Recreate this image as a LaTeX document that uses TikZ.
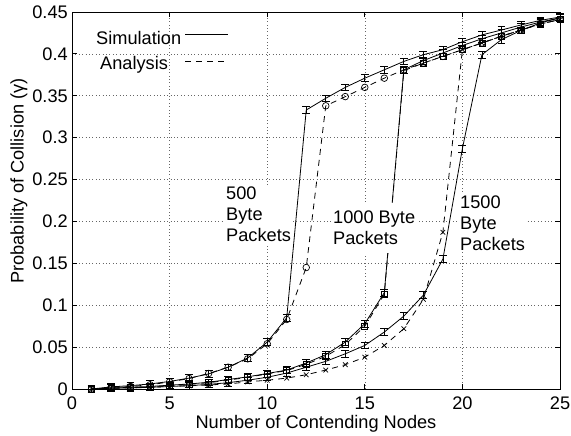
\documentclass[tikz,border=0pt]{standalone}
\usepackage{fontspec}
\setmainfont{Liberation Sans}
\usetikzlibrary{plotmarks}
\begin{document}
\begin{tikzpicture}[x=1pt,y=1pt, font=\fontsize{18.2}{21}\selectfont,
  gridline/.style={black!60, line width=0.6pt, dash pattern=on 0.6pt off 2.8pt},
  simline/.style={line width=0.8pt},
  analine/.style={line width=0.8pt, dash pattern=on 6pt off 5pt},
  ebar/.style={line width=0.7pt},
  lbl/.style={fill=white, align=left, inner sep=1pt},
  axisline/.style={line width=0.8pt},
  ticklbl/.style={inner sep=0pt}]
\useasboundingbox (0,0) rectangle (571,436);
\begin{scope}[x=19.52pt, y=837.8pt, shift={(72pt,47pt)}]
  % grid
  \foreach \gx in {5,10,15,20} \draw[gridline] (\gx,0) -- (\gx,0.45);
  \foreach \gy in {0.05,0.1,0.15,0.2,0.25,0.3,0.35,0.4} \draw[gridline] (0,\gy) -- (25,\gy);
  % simulation curves
  \draw[simline] plot coordinates {(1,0) (2,0.0025) (3,0.004) (4,0.006) (5,0.009) (6,0.013) (7,0.018) (8,0.026) (9,0.037) (10,0.056) (11,0.085) (12,0.333) (13,0.347) (14,0.360) (15,0.371) (16,0.381) (17,0.391) (18,0.399) (19,0.405) (20,0.4145) (21,0.4226) (22,0.4285) (23,0.4345) (24,0.440) (25,0.444)};
  \draw[simline] plot coordinates {(1,0) (2,0.001) (3,0.002) (4,0.003) (5,0.0045) (6,0.006) (7,0.008) (8,0.0113) (9,0.0145) (10,0.0185) (11,0.0226) (12,0.031) (13,0.041) (14,0.056) (15,0.078) (16,0.115) (17,0.381) (18,0.392) (19,0.401) (20,0.410) (21,0.418) (22,0.425) (23,0.432) (24,0.438) (25,0.443)};
  \draw[simline] plot coordinates {(1,0) (2,0.001) (3,0.0015) (4,0.002) (5,0.003) (6,0.004) (7,0.0055) (8,0.0075) (9,0.0105) (10,0.014) (11,0.019) (12,0.026) (13,0.033) (14,0.042) (15,0.052) (16,0.068) (17,0.087) (18,0.112) (19,0.155) (20,0.287) (21,0.399) (22,0.417) (23,0.428) (24,0.437) (25,0.443)};
  % error bars
  \foreach \px/\py in {1/0,2/0.0025,3/0.004,4/0.006,5/0.009,6/0.013,7/0.018,8/0.026,9/0.037,10/0.056,11/0.085,12/0.333,13/0.347,14/0.360,15/0.371,16/0.381,17/0.391,18/0.399,19/0.405,20/0.4145,21/0.4226,22/0.4285,23/0.4345,24/0.440,25/0.444,
    2/0.001,3/0.002,4/0.003,5/0.0045,6/0.006,7/0.008,8/0.0113,9/0.0145,10/0.0185,11/0.0226,12/0.031,13/0.041,14/0.056,15/0.078,16/0.115,17/0.381,18/0.392,19/0.401,20/0.410,21/0.418,22/0.425,23/0.432,24/0.438,25/0.443,
    2/0.001,3/0.0015,4/0.002,5/0.003,6/0.004,7/0.0055,8/0.0075,9/0.0105,10/0.014,11/0.019,12/0.026,13/0.033,14/0.042,15/0.052,16/0.068,17/0.087,18/0.112,19/0.155,20/0.287,21/0.399,22/0.417,23/0.428,24/0.437,25/0.443}
  {
    \draw[ebar] (\px,\py-0.004) -- (\px,\py+0.004);
    \draw[ebar] (\px-0.2,\py+0.004) -- (\px+0.2,\py+0.004);
    \draw[ebar] (\px-0.2,\py-0.004) -- (\px+0.2,\py-0.004);
  }
  % analysis curves
  \draw[analine] plot[mark=o, mark options={solid, mark size=3.3pt, line width=0.7pt}] coordinates {(1,0) (2,0.002) (3,0.003) (4,0.005) (5,0.0085) (6,0.0125) (7,0.0185) (8,0.026) (9,0.036) (10,0.054) (11,0.083) (12,0.145) (13,0.338) (14,0.349) (15,0.360) (16,0.371) (17,0.381) (18,0.389) (19,0.397) (20,0.405) (21,0.413) (22,0.421) (23,0.4285) (24,0.4357) (25,0.441)};
  \draw[analine] plot[mark=square, mark options={solid, mark size=3pt, line width=0.7pt}] coordinates {(1,0) (2,0.001) (3,0.0018) (4,0.0027) (5,0.004) (6,0.0055) (7,0.0075) (8,0.0105) (9,0.014) (10,0.018) (11,0.022) (12,0.0295) (13,0.039) (14,0.053) (15,0.075) (16,0.113) (17,0.38) (18,0.389) (19,0.397) (20,0.405) (21,0.413) (22,0.421) (23,0.4285) (24,0.4357) (25,0.441)};
  \draw[analine] plot[mark=x, mark options={solid, mark size=3.3pt, line width=0.7pt}] coordinates {(1,0) (2,0.0008) (3,0.0012) (4,0.002) (5,0.003) (6,0.0038) (7,0.0048) (8,0.006) (9,0.0085) (10,0.0105) (11,0.013) (12,0.017) (13,0.0226) (14,0.029) (15,0.038) (16,0.052) (17,0.072) (18,0.107) (19,0.187) (20,0.405) (21,0.413) (22,0.421) (23,0.4285) (24,0.4357) (25,0.441)};
  % ticks
  \foreach \gx in {5,10,15,20} {
    \draw[axisline] (\gx,0) -- ++(0,5pt);
    \draw[axisline] (\gx,0.45) -- ++(0,-5pt);
  }
  \foreach \gy in {0.05,0.1,0.15,0.2,0.25,0.3,0.35,0.4} {
    \draw[axisline] (0,\gy) -- ++(5pt,0);
    \draw[axisline] (25,\gy) -- ++(-5pt,0);
  }
  \draw[axisline] (0,0) rectangle (25,0.45);
  % tick labels
  \foreach \gx in {0,5,10,15,20,25}
    \node[ticklbl, anchor=north] (xt\gx) at ([yshift=-7.5pt]\gx,0) {\gx};
  \foreach \gy/\gl in {0/0,0.05/0.05,0.1/0.1,0.15/0.15,0.2/0.2,0.25/0.25,0.3/0.3,0.35/0.35,0.4/0.4,0.45/0.45}
    \node[ticklbl, anchor=east] at ([xshift=-4pt]0,\gy) {\gl};
\end{scope}
% axis titles
\node[anchor=base] (xlab) at (316,7.5) {Number of Contending Nodes};
\node[rotate=90] (ylab) at (19,255) {Probability of Collision (γ)};
% legend
\node[anchor=base west, inner sep=0pt] (legsim) at (96,391.7) {Simulation};
\node[anchor=base west, inner sep=0pt] (legana) at (100,366.4) {Analysis};
\coordinate (ls1) at (185,401.7); \coordinate (ls2) at (228,401.7);
\coordinate (la1) at (185,374.3); \coordinate (la2) at (228,374.3);
\draw[simline] (ls1) -- (ls2);
\draw[analine] (la1) -- (la2);
% curve labels
\node[lbl, anchor=north west] (l500) at (225,250.2) {500\\Byte\\Packets};
\node[lbl, inner xsep=2pt, inner ysep=8pt, anchor=north west] (l1000) at (331,233.5) {1000 Byte\\Packets};
\node[lbl, inner sep=2pt, anchor=north west] (l1500) at (458,242.8) {1500\\Byte\\Packets};
\end{tikzpicture}
\end{document}
